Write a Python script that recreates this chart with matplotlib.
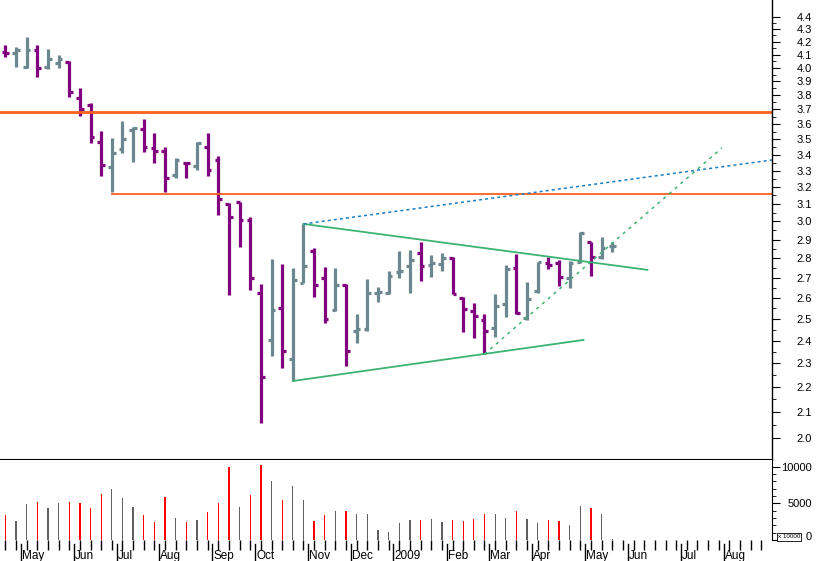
import numpy as np, matplotlib
matplotlib.use('Agg')
import matplotlib.pyplot as plt
from matplotlib.ticker import FixedLocator, NullFormatter

plt.rcParams['font.family'] = ['Liberation Sans', 'DejaVu Sans']

high = [4.175,4.157,4.241,4.175,4.142,4.098,4.054,3.85,3.746,3.554,3.508,3.623,3.583,3.633,3.539,3.451,3.381,3.356,3.48,3.539,3.394,3.104,3.11,3.027,2.667,2.795,2.769,2.751,2.986,2.853,2.754,2.748,2.667,2.522,2.692,2.652,2.735,2.839,2.844,2.889,2.818,2.827,2.806,2.603,2.577,2.522,2.618,2.765,2.823,2.677,2.783,2.809,2.791,2.786,2.940,2.886,2.913,2.884]
low = [4.085,4.009,3.997,3.935,3.989,3.997,3.79,3.657,3.475,3.269,3.17,3.409,3.352,3.419,3.346,3.169,3.253,3.253,3.304,3.269,3.037,2.614,2.859,2.639,2.058,2.332,2.279,2.225,2.672,2.603,2.479,2.539,2.289,2.388,2.444,2.582,2.618,2.697,2.626,2.685,2.702,2.735,2.618,2.441,2.411,2.34,2.418,2.51,2.523,2.495,2.623,2.745,2.66,2.65,2.777,2.709,2.795,2.835]
opn = [4.123,4.115,4.004,4.136,4.009,4.039,4.047,3.779,3.732,3.484,3.324,3.434,3.561,3.566,3.441,3.425,3.273,3.349,3.331,3.451,3.366,3.098,3.11,3.009,2.623,2.403,2.553,2.319,2.675,2.84,2.7,2.542,2.664,2.445,2.453,2.626,2.623,2.731,2.762,2.827,2.765,2.769,2.8,2.601,2.539,2.495,2.459,2.571,2.748,2.503,2.634,2.773,2.774,2.7,2.783,2.886,2.805,2.863]
cls = [4.111,4.136,4.136,4.001,4.065,4.065,3.826,3.704,3.516,3.335,3.413,3.499,3.572,3.451,3.425,3.257,3.366,3.346,3.477,3.304,3.129,3.027,3.009,2.7,2.243,2.542,2.354,2.689,2.762,2.664,2.501,2.664,2.354,2.451,2.623,2.631,2.709,2.736,2.791,2.762,2.777,2.8,2.619,2.545,2.515,2.444,2.561,2.745,2.526,2.593,2.783,2.765,2.705,2.774,2.934,2.809,2.853,2.865]
volume = [3400,2600,4900,5200,4300,5100,5200,5000,4300,6200,7000,5700,4500,3400,2400,5800,3000,2400,2700,3800,5100,9900,4500,6100,10200,8000,5400,7400,5500,2600,3400,3900,4000,3500,3600,1300,1100,2300,2700,2700,2900,2400,2700,2600,2900,3500,3600,3000,3900,2900,2300,2700,2600,2100,4600,4300,3500,100]
vol_down = [1,0,0,1,0,0,1,1,1,1,0,0,0,1,1,1,0,1,0,1,1,1,0,1,1,0,1,0,0,1,1,0,1,0,0,0,0,0,0,1,0,0,1,1,1,1,0,0,1,0,0,1,1,0,0,1,0,0]
month_labels = ["May","Jun","Jul","Aug","Sep","Oct","Nov","Dec","2009","Feb","Mar","Apr","May","Jun","Jul","Aug"]
month_idx = [1,6,10,14,19,23,28,32,36,41,45,49,54,58,63,67]
price_ticks = [round(2.0+0.1*i,1) for i in range(25)]
price_minor = [round(2.05+0.1*i,2) for i in range(24)]
hlines = [(3.68, -0.5), (3.16, 10)]
green_solid = [((28,2.986),(60.3,2.740)), ((27,2.225),(54.3,2.403))]
blue_dotted = ((28,2.986),(72,3.366))
green_dashed = ((45,2.34),(67.3,3.443))

W,H = 817,561
fig = plt.figure(figsize=(W/100,H/100), dpi=100)
right = 772/W
axp = fig.add_axes([0, (H-460)/H, right, 460/H])
axv = fig.add_axes([0, (H-540)/H, right, 80/H])
purple, gray = '#800080', '#6b878f'
x = np.arange(len(high))
for i in x:
    c = purple if cls[i] < opn[i] else gray
    axp.plot([i,i],[low[i],high[i]], color=c, lw=2.3, solid_capstyle='butt')
    axp.plot([i-0.35,i],[opn[i],opn[i]], color=c, lw=2.3, solid_capstyle='butt')
    axp.plot([i,i+0.35],[cls[i],cls[i]], color=c, lw=2.3, solid_capstyle='butt')
axp.axhline(hlines[0][0], color='#ff6020', lw=2)
axp.plot([hlines[1][1],72],[hlines[1][0]]*2, color='#ff6020', lw=1.3)
for (a,b) in green_solid:
    axp.plot([a[0],b[0]],[a[1],b[1]], color='#3cb371', lw=1.3)
axp.plot([blue_dotted[0][0],blue_dotted[1][0]],[blue_dotted[0][1],blue_dotted[1][1]], color='#1a7fc0', lw=1.1, ls=(0,(2,2)))
axp.plot([green_dashed[0][0],green_dashed[1][0]],[green_dashed[0][1],green_dashed[1][1]], color='#3cb371', lw=1.1, ls=(0,(2,3)))
axp.set_yscale('log')
axp.set_ylim(1.919, 4.542)
axp.set_xlim(-0.5, 72)
axp.yaxis.set_major_locator(FixedLocator(price_ticks))
axp.yaxis.set_minor_locator(FixedLocator(price_minor))
axp.yaxis.set_minor_formatter(NullFormatter())
axp.set_yticklabels([f"{t:.1f}" for t in price_ticks], ha='right')
axp.yaxis.tick_right()
axp.tick_params(axis='y', which='major', labelsize=8, length=6, direction='out', pad=23)
axp.tick_params(axis='y', which='minor', length=3, direction='out')
axp.set_xticks([])
for s in ['top','left']:
    axp.spines[s].set_visible(False)
axp.spines['bottom'].set_linewidth(1.5)
axp.spines['right'].set_linewidth(1)

axv.bar(x, volume, width=0.12, color=['#ff0000' if d else '#606060' for d in vol_down])
axv.set_xlim(-0.5, 72)
axv.set_ylim(0, 10900)
axv.yaxis.tick_right()
axv.set_yticks([0,5000,10000])
axv.set_yticks(np.arange(1000,10001,1000), minor=True)
axv.set_yticklabels(['', '5000', '10000'], ha='right')
axv.tick_params(axis='y', which='major', labelsize=8, length=6, pad=23)
axv.tick_params(axis='y', which='minor', length=3)
for s in ['top','left','bottom']:
    axv.spines[s].set_visible(False)
axv.set_xticks(np.arange(0,72))
axv.set_xticklabels([])
axv.tick_params(axis='x', length=7, direction='out', pad=0, width=1)
for lab, i in zip(month_labels, month_idx):
    axv.plot([i+0.45,i+0.45],[-0.05,-0.25], transform=axv.get_xaxis_transform(), color='black', lw=1, clip_on=False)
    axv.text(i+0.55, -0.2, lab, transform=axv.get_xaxis_transform(), fontsize=8.5, va='center', ha='left')
fig.text(812/W, 1-537/H, '0', fontsize=8, ha='right', va='center')
fig.text(789/W, 1-537/H, 'x 10000', fontsize=4.5, ha='center', va='center',
         bbox=dict(boxstyle='square,pad=0.2', fc='white', ec='black', lw=0.6))
fig.savefig('out.png')
